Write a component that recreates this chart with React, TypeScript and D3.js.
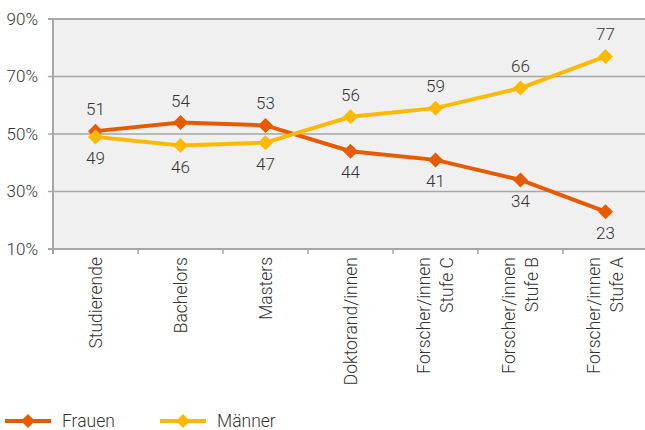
import React from "react";
import * as d3 from "d3";

const categories: string[][] = [
  ["Studierende"],
  ["Bachelors"],
  ["Masters"],
  ["Doktorand/innen"],
  ["Forscher/innen", "Stufe C"],
  ["Forscher/innen", "Stufe B"],
  ["Forscher/innen", "Stufe A"],
];
const frauen = [51, 54, 53, 44, 41, 34, 23];
const maenner = [49, 46, 47, 56, 59, 66, 77];
const yTicks = [10, 30, 50, 70, 90];

const W = 645;
const H = 430;
const M = { left: 53, right: 648, top: 19, bottom: 249 };
const ORANGE = "#E85A00";
const YELLOW = "#FFB900";
const FONT = "Roboto, 'Noto Sans', sans-serif";

export default function App() {
  const x = d3
    .scaleBand<number>()
    .domain(categories.map((_, i) => i))
    .range([M.left, M.right]);
  const y = d3.scaleLinear().domain([10, 90]).range([M.bottom, M.top]);
  const cx = (i: number) => (x(i) as number) + x.bandwidth() / 2;
  const line = d3
    .line<number>()
    .x((_, i) => cx(i))
    .y((d) => y(d));

  const diamond = (px: number, py: number, r: number) =>
    `M${px},${py - r}L${px + r},${py}L${px},${py + r}L${px - r},${py}Z`;

  const series = [
    { name: "Frauen", values: frauen, other: maenner, color: ORANGE },
    { name: "Männer", values: maenner, other: frauen, color: YELLOW },
  ];

  return (
    <svg
      width={W}
      height={H}
      style={{ position: "absolute", left: 0, top: 0 }}
      fontFamily={FONT}
      fontWeight={300}
    >
      <rect
        x={M.left}
        y={M.top}
        width={M.right - M.left}
        height={M.bottom - M.top}
        fill="#F0F0F0"
      />
      {yTicks.map((t) => (
        <g key={t}>
          <line
            x1={M.left - 5}
            x2={M.right}
            y1={y(t)}
            y2={y(t)}
            stroke="#A6A6A6"
            strokeWidth={t === 10 || t === 90 ? 2 : 1.5}
          />
          <text
            x={38}
            y={y(t)}
            dy="0.35em"
            textAnchor="end"
            fontSize={17}
            fill="#333"
          >
            {t}%
          </text>
        </g>
      ))}
      <line
        x1={M.left}
        x2={M.left}
        y1={M.top}
        y2={M.bottom + 5}
        stroke="#A6A6A6"
        strokeWidth={2}
      />
      {categories.map((_, i) => (
        <line
          key={i}
          x1={x(i) as number}
          x2={x(i) as number}
          y1={M.bottom}
          y2={M.bottom + 5}
          stroke="#A6A6A6"
          strokeWidth={1.5}
        />
      ))}
      {categories.map((lines, i) => (
        <text
          key={i}
          transform={`translate(${cx(i)},${M.bottom + 8}) rotate(-90)`}
          textAnchor="end"
          fontSize={17.5}
          fill="#333"
        >
          {lines.map((l, j) => (
            <tspan
              key={j}
              x={0}
              y={(j - (lines.length - 1) / 2) * 22.5}
              dy="0.35em"
            >
              {l}
            </tspan>
          ))}
        </text>
      ))}
      {series.map((s) => (
        <g key={s.name}>
          <path
            d={line(s.values) as string}
            fill="none"
            stroke={s.color}
            strokeWidth={4}
          />
          {s.values.map((v, i) => (
            <path key={i} d={diamond(cx(i), y(v), 7.5)} fill={s.color} />
          ))}
        </g>
      ))}
      {series.map((s) =>
        s.values.map((v, i) => {
          const above = v > s.other[i];
          return (
            <text
              key={s.name + i}
              x={cx(i)}
              y={y(v) + (above ? -16 : 27)}
              textAnchor="middle"
              fontSize={17}
              fill="#333"
            >
              {v}
            </text>
          );
        })
      )}
      {series.map((s, k) => {
        const lx = k === 0 ? 5 : 160;
        const ly = 421;
        return (
          <g key={s.name}>
            <line
              x1={lx}
              x2={lx + 46}
              y1={ly}
              y2={ly}
              stroke={s.color}
              strokeWidth={4}
            />
            <path d={diamond(lx + 23, ly, 7)} fill={s.color} />
            <text
              x={lx + 57}
              y={ly}
              dy="0.35em"
              fontSize={17.5}
              fill="#333"
            >
              {s.name}
            </text>
          </g>
        );
      })}
    </svg>
  );
}
